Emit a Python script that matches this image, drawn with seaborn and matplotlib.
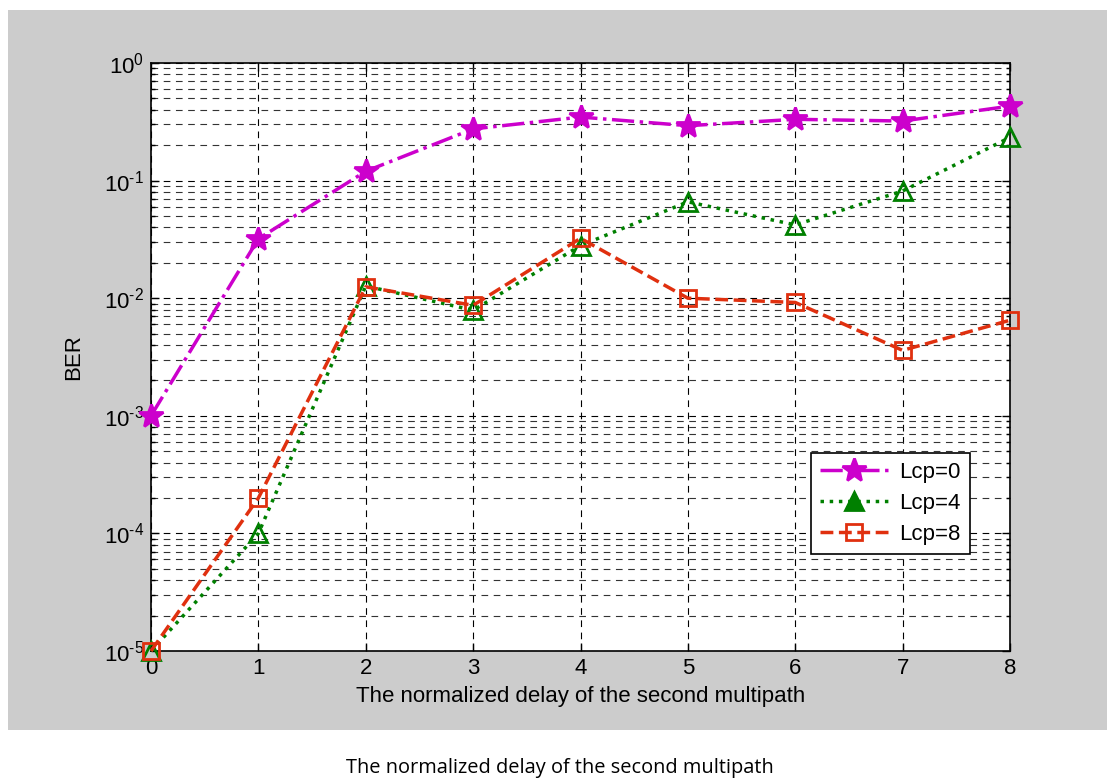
import numpy as np
import pandas as pd
import matplotlib
matplotlib.use("Agg")
import matplotlib.pyplot as plt
from matplotlib.patches import Rectangle
from matplotlib.ticker import LogLocator, FixedLocator, NullFormatter
import seaborn as sns

# Normalized delay of the second path
delay = [0, 1, 2, 3, 4, 5, 6, 7, 8]

# Bit error rate for each cyclic prefix length
ber_lcp0 = [1.0e-3, 0.032, 0.12, 0.275, 0.347, 0.293, 0.332, 0.321, 0.43]
ber_lcp4 = [1.0e-5, 1.0e-4, 0.0127, 0.0079, 0.028, 0.066, 0.042, 0.0816, 0.233]
ber_lcp8 = [1.0e-5, 2.0e-4, 0.0125, 0.0087, 0.0323, 0.0100, 0.0092, 0.0036, 0.0065]

series_labels = ["Lcp=0", "Lcp=4", "Lcp=8"]
y_tick_exponents = [-5, -4, -3, -2, -1, 0]
x_label = "The normalized delay of the second multipath"
y_label = "BER"

sns.set_style("ticks")
plt.rcParams["font.family"] = ["Liberation Sans", "DejaVu Sans"]
plt.rcParams["mathtext.fontset"] = "custom"
plt.rcParams["mathtext.rm"] = "Liberation Sans"
plt.rcParams["mathtext.it"] = "Liberation Sans"
plt.rcParams["mathtext.default"] = "regular"
plt.rcParams["text.color"] = "black"
plt.rcParams["axes.labelcolor"] = "black"
plt.rcParams["xtick.color"] = "black"
plt.rcParams["ytick.color"] = "black"

W, H = 1107, 778
fig = plt.figure(figsize=(W / 100, H / 100), dpi=100, facecolor="white")

# grey figure panel
fig.patches.append(Rectangle((8 / W, (H - 730) / H), 1 - 8 / W, (730 - 10) / H,
                             transform=fig.transFigure, facecolor="#cccccc",
                             edgecolor="none", zorder=-5))

ax = fig.add_axes([151 / W, (H - 651) / H, (1010 - 151) / W, (651 - 63) / H])
ax.set_zorder(2)
ax.set_facecolor("white")

df = pd.DataFrame({"delay": delay, "lcp0": ber_lcp0, "lcp4": ber_lcp4, "lcp8": ber_lcp8})

styles = [
    ("lcp0", "#cc00cc", "-.", "*", 18, "#cc00cc"),
    ("lcp4", "#008000", ":", "^", 13, "none"),
    ("lcp8", "#e0300f", "--", "s", 12, "none"),
]
for (col, color, ls, mk, ms, mfc), lab in zip(styles, series_labels):
    sns.lineplot(data=df, x="delay", y=col, ax=ax, color=color, linestyle=ls,
                 linewidth=2.5, marker=mk, markersize=ms, markerfacecolor=mfc,
                 markeredgecolor=color, markeredgewidth=2, label=lab,
                 clip_on=False, zorder=3)

ax.set_yscale("log")
ax.set_xlim(0, 8)
ax.set_ylim(1e-5, 1)
ax.xaxis.set_major_locator(FixedLocator(delay))
ax.set_yticks([10.0 ** e for e in y_tick_exponents])
ax.set_yticklabels([rf"$10^{{\text{{{e}}}}}$" for e in y_tick_exponents])
ax.yaxis.set_minor_locator(LogLocator(base=10, subs=np.arange(2, 10)))
ax.yaxis.set_minor_formatter(NullFormatter())

ax.grid(True, which="major", axis="both", color="black", linestyle=(0, (6, 5)), linewidth=0.8)
ax.grid(True, which="minor", axis="y", color="#333333", linestyle=(0, (6, 5)), linewidth=0.8)
ax.set_axisbelow(True)

ax.tick_params(which="both", direction="in", top=True, right=True, labelsize=16,
               colors="black", width=1)
ax.tick_params(which="major", length=6, pad=5)
ax.tick_params(which="minor", length=3)
for s in ax.spines.values():
    s.set_color("black")
    s.set_linewidth(1.2)
    s.set_visible(True)

ax.set_xlabel(x_label, fontsize=16, labelpad=5)
ax.set_ylabel(y_label, fontsize=16, labelpad=14)

leg = ax.legend(loc="upper left", bbox_to_anchor=(0.768, 0.337), fontsize=16,
                frameon=True, fancybox=False, edgecolor="black", framealpha=1,
                handlelength=3.1, handletextpad=0.5, borderpad=0.4,
                labelspacing=0.45, borderaxespad=0)
leg.get_frame().set_linewidth(1.2)
for h in leg.legend_handles:
    h.set_markerfacecolor(h.get_color() if h.get_marker() != "s" else "none")

fig.text(560 / W, (H - 768) / H, x_label, ha="center", va="center",
         fontsize=14.4, family=["Open Sans", "DejaVu Sans"], color="black")

fig.savefig("out.png", dpi=100, facecolor="white")
